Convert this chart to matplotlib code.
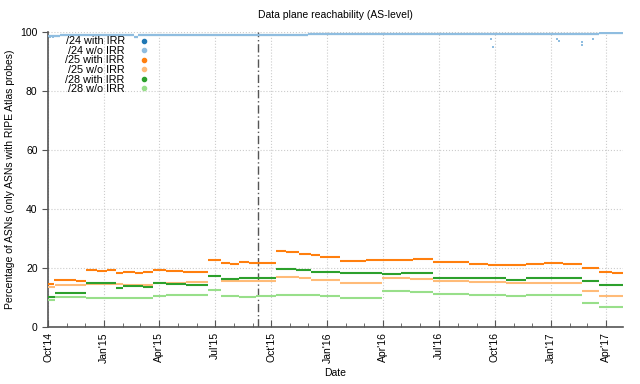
import pandas as pd
import matplotlib
matplotlib.use("Agg")
import matplotlib.pyplot as plt
import matplotlib.dates as mdates
from matplotlib.lines import Line2D
import numpy as np

# level segments: value[i] holds from dates[i] to dates[i+1]; None = gap
p24_irr_dates = ["2014-10-01", "2014-10-20", "2015-02-18", "2015-02-26", "2015-09-01",
                 "2015-12-01", "2016-06-01", "2017-01-01", "2017-03-20", "2017-04-28"]
p24_irr_vals = [98.5, 98.8, 98.2, 98.9, 99.0, 99.2, 99.2, 99.3, 99.5]

p24_noirr_dates = ["2014-10-01", "2014-10-20", "2015-02-18", "2015-02-26", "2015-09-01",
                   "2015-12-01", "2016-06-01", "2017-01-01", "2017-03-20", "2017-04-28"]
p24_noirr_vals = [98.6, 98.9, 98.3, 99.0, 99.1, 99.3, 99.3, 99.4, 99.6]

p24_out_dates = ["2014-10-04", "2014-10-09", "2016-09-25", "2016-09-28", "2017-01-10",
                 "2017-01-14", "2017-02-20", "2017-02-20", "2017-03-10"]
p24_out_vals = [98.2, 98.3, 97.5, 95.0, 97.6, 97.0, 96.5, 95.6, 97.5]

p25_irr_dates = ["2014-10-01", "2014-10-10", "2014-11-15", "2014-12-02", "2014-12-20",
                 "2015-01-05", "2015-01-20", "2015-01-31", "2015-02-20", "2015-03-05",
                 "2015-03-21", "2015-04-12", "2015-05-10", "2015-06-01", "2015-06-19",
                 "2015-07-11", "2015-07-25", "2015-08-10", "2015-08-25", "2015-09-15",
                 "2015-10-09", "2015-10-25", "2015-11-15", "2015-12-05", "2015-12-20",
                 "2016-01-21", "2016-02-10", "2016-03-04", "2016-03-31", "2016-05-01",
                 "2016-05-20", "2016-06-21", "2016-07-20", "2016-08-20", "2016-09-20",
                 "2016-10-19", "2016-11-21", "2016-12-20", "2017-01-20", "2017-02-21",
                 "2017-03-20", "2017-04-10", "2017-04-28"]
p25_irr_vals = [14.6, 15.9, 15.7, 19.3, 19.0, 19.4, 18.2, 18.6, 18.4, 18.7,
                19.4, 18.9, 18.8, 18.6, 22.6, 21.7, 21.5, 22.0, 21.8, 21.6,
                25.9, 25.6, 24.8, 24.3, 23.8, 22.5, 22.3, 22.7, 22.8, 22.6,
                23.0, 22.2, 22.0, 21.3, 21.0, 21.2, 21.5, 21.6, 21.4, 19.9,
                18.7, 18.5]

p25_noirr_dates = ["2014-10-01", "2014-10-12", "2014-12-02", "2015-02-01", "2015-03-21",
                   "2015-04-12", "2015-05-15", "2015-06-19", "2015-07-11", "2015-09-06",
                   "2015-10-09", "2015-11-15", "2015-12-05", "2016-01-21", "2016-03-31",
                   "2016-05-15", "2016-06-21", "2016-08-20", "2016-10-19", "2016-11-21",
                   "2017-02-21", "2017-03-20", "2017-04-28"]
p25_noirr_vals = [13.7, 14.3, 14.5, 14.3, 14.8, 15.0, 15.3, None, 15.5, 15.7,
                  16.9, 16.5, 15.9, 15.0, 16.5, 16.3, 15.7, 15.3, 14.8, 15.1,
                  12.2, 10.7]

p28_irr_dates = ["2014-10-01", "2014-10-12", "2014-12-02", "2015-01-20", "2015-01-31",
                 "2015-03-05", "2015-03-21", "2015-04-12", "2015-05-15", "2015-06-19",
                 "2015-07-11", "2015-08-10", "2015-09-06", "2015-10-09", "2015-11-10",
                 "2015-12-05", "2015-12-25", "2016-01-21", "2016-03-31", "2016-05-01",
                 "2016-06-21", "2016-08-20", "2016-10-19", "2016-11-21", "2017-02-21",
                 "2017-03-20", "2017-04-28"]
p28_irr_vals = [10.1, 11.6, 14.8, 13.3, 14.0, 13.7, 15.0, 14.6, 14.3, 17.4,
                16.3, 16.6, 16.7, 19.7, 19.2, 18.7, 18.8, 18.2, 18.0, 18.2,
                16.8, 16.6, 15.9, 16.8, 15.6, 14.2]

p28_noirr_dates = ["2014-10-01", "2014-10-12", "2014-12-02", "2015-01-31", "2015-03-21",
                   "2015-04-12", "2015-06-19", "2015-07-11", "2015-08-10", "2015-09-06",
                   "2015-10-09", "2015-11-15", "2015-12-20", "2016-01-21", "2016-03-31",
                   "2016-05-15", "2016-06-21", "2016-08-20", "2016-10-19", "2016-11-21",
                   "2017-02-21", "2017-03-20", "2017-04-28"]
p28_noirr_vals = [9.2, 10.1, 10.0, 9.8, 10.4, 10.8, 12.5, 10.5, 10.2, 10.6,
                  11.0, 10.8, 10.5, 10.0, 12.2, 11.9, 11.4, 11.0, 10.4, 10.8,
                  8.2, 6.9]

marker_date = "2015-09-09"
labels = ["/24 with IRR", "/24 w/o IRR", "/25 with IRR", "/25 w/o IRR", "/28 with IRR", "/28 w/o IRR"]
colors = ["#1f77b4", "#8fbde0", "#ff7f0e", "#ffbb78", "#2ca02c", "#98df8a"]

plt.rcParams['font.family'] = ['Liberation Sans', 'DejaVu Sans']

fig = plt.figure(figsize=(6.4, 3.84), dpi=100)
ax = fig.add_axes([0.075, 0.148, 0.898, 0.769])

def levels(dates, vals, color):
  d = pd.to_datetime(dates)
  for i, v in enumerate(vals):
    if v is None:
      continue
    ax.hlines(v, d[i], d[i+1], colors=color, lw=1.5, zorder=3)

series = [(p24_irr_dates, p24_irr_vals), (p24_noirr_dates, p24_noirr_vals),
          (p25_irr_dates, p25_irr_vals), (p25_noirr_dates, p25_noirr_vals),
          (p28_irr_dates, p28_irr_vals), (p28_noirr_dates, p28_noirr_vals)]
for (d, v), c in zip(series, colors):
  levels(d, v, c)
ax.plot(pd.to_datetime(p24_out_dates), p24_out_vals, ls='none', marker='s', ms=1.6,
        mew=0, color=colors[1], zorder=3)

ax.axvline(pd.Timestamp(marker_date), color="#555555", lw=1.0, ls=(0, (6, 2, 1, 2)), zorder=2)

ax.set_xlim(pd.Timestamp("2014-10-01"), pd.Timestamp("2017-04-28"))
ax.set_ylim(0, 100)
ax.xaxis.set_major_locator(mdates.MonthLocator(bymonth=[1, 4, 7, 10]))
ax.xaxis.set_minor_locator(mdates.MonthLocator())
ax.xaxis.set_major_formatter(mdates.DateFormatter("%b'%y"))
ax.set_yticks([0, 20, 40, 60, 80, 100])
ax.tick_params(axis='x', which='both', direction='in', labelsize=7.5, rotation=90, color="#555555")
ax.tick_params(axis='x', which='major', length=5)
ax.tick_params(axis='x', which='minor', length=3)
ax.tick_params(axis='y', direction='out', length=4, labelsize=7.5, color="#555555")
ax.grid(True, which='major', ls=':', color="#cccccc", lw=0.8)
for s in ['top', 'right']:
  ax.spines[s].set_visible(False)
for s in ['left', 'bottom']:
  ax.spines[s].set_color("#555555")
  ax.spines[s].set_linewidth(1.2)

ax.set_title("Data plane reachability (AS-level)", fontsize=7.5, pad=10)
ax.set_xlabel("Date", fontsize=7.5)
ax.set_ylabel("Percentage of ASNs (only ASNs with RIPE Atlas probes)", fontsize=7.5)

handles = [Line2D([], [], ls='none', marker='o', ms=3, color=c) for c in colors]
ax.legend(handles, labels, loc='upper left', bbox_to_anchor=(0.019, 1.007), frameon=False,
          markerfirst=False, fontsize=7.8, labelspacing=-0.04, handlelength=1.0,
          handletextpad=1.3, borderaxespad=0.2)

fig.savefig("out.png", dpi=100)
